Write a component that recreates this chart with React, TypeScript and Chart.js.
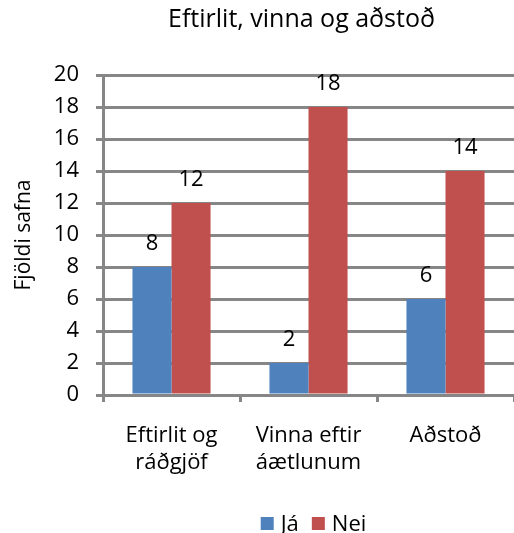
import React, { useEffect, useRef } from "react";
import { Chart, registerables } from "chart.js";

Chart.register(...registerables);

const categories: string[][] = [["Eftirlit og", "ráðgjöf"], ["Vinna eftir", "áætlunum"], ["Aðstoð"]];
const jaValues: number[] = [8, 2, 6];
const neiValues: number[] = [12, 18, 14];
const seriesNames: string[] = ["Já", "Nei"];
const seriesColors: string[] = ["#4F81BD", "#C0504D"];
const chartTitle = "Eftirlit, vinna og aðstoð";
const yAxisTitle = "Fjöldi safna";

const FONT = "'Open Sans', sans-serif";

const dataLabels = {
  id: "dataLabels",
  afterDatasetsDraw(chart: any) {
    const ctx = chart.ctx;
    ctx.save();
    ctx.font = `22px ${FONT}`;
    ctx.fillStyle = "#000";
    ctx.textAlign = "center";
    ctx.textBaseline = "alphabetic";
    chart.data.datasets.forEach((ds: any, i: number) => {
      const meta = chart.getDatasetMeta(i);
      meta.data.forEach((bar: any, j: number) => {
        ctx.fillText(String(ds.data[j]), bar.x, bar.y - 17);
      });
    });
    ctx.restore();
  },
};

const titleAndLegend = {
  id: "titleAndLegend",
  afterDraw(chart: any) {
    const ctx = chart.ctx;
    const area = chart.chartArea;
    const cx = (area.left + area.right) / 2 - 7;
    ctx.save();
    ctx.fillStyle = "#000";
    ctx.textAlign = "center";
    ctx.textBaseline = "alphabetic";
    ctx.font = `25px ${FONT}`;
    ctx.fillText(chartTitle, cx, 27);

    // legend
    ctx.font = `22px ${FONT}`;
    const box = 13;
    const gapText = 7;
    const gapItem = 13;
    const widths = chart.data.datasets.map((d: any) => ctx.measureText(d.label).width);
    let total = 0;
    widths.forEach((w: number, i: number) => {
      total += box + gapText + w + (i < widths.length - 1 ? gapItem : 0);
    });
    let x = cx + 12 - total / 2;
    const baseY = 531;
    ctx.textAlign = "left";
    chart.data.datasets.forEach((d: any, i: number) => {
      ctx.fillStyle = d.backgroundColor;
      ctx.fillRect(x, 517, box, box);
      ctx.fillStyle = "#000";
      ctx.fillText(d.label, x + box + gapText, baseY);
      x += box + gapText + widths[i] + gapItem;
    });
    ctx.restore();
  },
};

export default function App() {
  const ref = useRef<HTMLCanvasElement>(null);
  useEffect(() => {
    document.body.style.margin = "0";
    const chart = new Chart(ref.current!, {
      type: "bar",
      data: {
        labels: categories,
        datasets: [
          { label: seriesNames[0], data: jaValues, backgroundColor: seriesColors[0] },
          { label: seriesNames[1], data: neiValues, backgroundColor: seriesColors[1] },
        ],
      },
      options: {
        animation: false,
        responsive: false,
        layout: { padding: { left: 11, right: 0, top: 75, bottom: 0 } },
        datasets: { bar: { categoryPercentage: 0.57, barPercentage: 1 } },
        plugins: {
          title: { display: false },
          legend: { display: false },
          tooltip: { enabled: false },
        },
        scales: {
          x: {
            afterFit: (axis: any) => {
              axis.height = 138;
            },
            grid: { offset: true, drawOnChartArea: false, color: "#868686", lineWidth: 3, tickLength: 7 },
            border: { color: "#868686", width: 3 },
            ticks: {
              color: "#000",
              font: { family: FONT, size: 22, lineHeight: 1.23 },
              padding: 20,
              maxRotation: 0,
              autoSkip: false,
            },
          },
          y: {
            min: 0,
            max: 20,
            afterFit: (axis: any) => {
              axis.width = 92;
            },
            ticks: { stepSize: 2, color: "#000", font: { family: FONT, size: 22 }, padding: 17 },
            grid: { color: "#868686", lineWidth: 3, tickLength: 7 },
            border: { color: "#868686", width: 3 },
            title: {
              display: true,
              text: yAxisTitle,
              color: "#000",
              font: { family: FONT, size: 21 },
              padding: { top: 0, bottom: 0 },
            },
          },
        },
      },
      plugins: [dataLabels, titleAndLegend],
    });
    return () => chart.destroy();
  }, []);
  return <canvas ref={ref} width={514} height={533} style={{ display: "block" }} />;
}
